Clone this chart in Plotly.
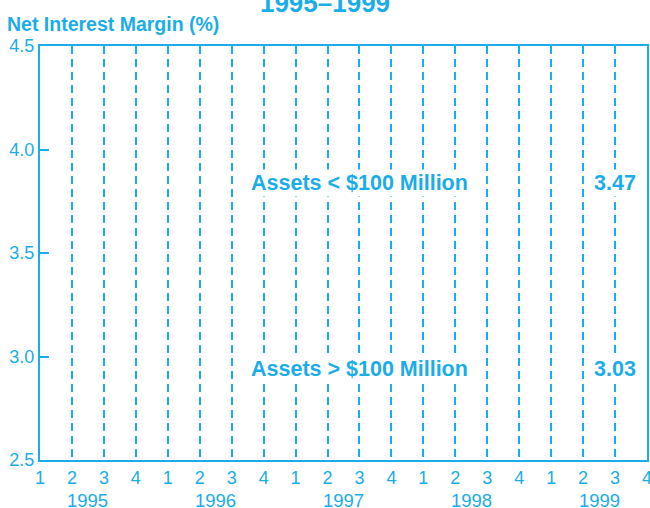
import plotly.graph_objects as go

# quarters 1995Q1 .. 1999Q4
years = ["1995", "1996", "1997", "1998", "1999"]
quarters = ["1", "2", "3", "4"]
series_labels = ["Assets < $100 Million", "Assets > $100 Million"]
latest_values = [3.47, 3.03]
label_y = [3.84, 2.94]

BLUE = "#1BADE8"
FONT = "Liberation Sans"

positions = list(range(1, len(years) * len(quarters) + 1))
tick_text = quarters * len(years)

fig = go.Figure()
# invisible trace so the axes exist
fig.add_trace(go.Scatter(x=[positions[0], positions[-1]], y=[2.5, 4.5],
                         mode="markers", marker=dict(opacity=0),
                         hoverinfo="skip", showlegend=False))

for lab, val, y in zip(series_labels, latest_values, label_y):
    fig.add_annotation(x=11, y=y, text=f"<b>{lab}</b>", showarrow=False,
                       bgcolor="white", font=dict(size=21.5, color=BLUE))
    fig.add_annotation(x=19, y=y, text=f"<b>{val:.2f}</b>", showarrow=False,
                       bgcolor="white", font=dict(size=21.5, color=BLUE))

for i, yr in enumerate(years):
    fig.add_annotation(x=i * 4 + 2.5, y=-0.097, xref="x", yref="paper",
                       text=yr, showarrow=False, yanchor="middle",
                       font=dict(size=18.5, color=BLUE))

fig.add_annotation(x=-0.058, y=1.053, xref="paper", yref="paper",
                   xanchor="left", yanchor="middle", showarrow=False,
                   text="<b>Net Interest Margin (%)</b>",
                   font=dict(size=19.5, color=BLUE))

fig.update_layout(
    title=dict(text="<b>1995–1999</b>", x=0.5, xanchor="center",
               y=0.994, yanchor="middle", font=dict(size=26, color=BLUE)),
    width=650, height=508,
    margin=dict(l=40, r=3, t=46, b=48),
    plot_bgcolor="white", paper_bgcolor="white",
    font=dict(family=FONT, color=BLUE, size=18),
    xaxis=dict(range=[1, 20], tickvals=positions, ticktext=tick_text,
               showgrid=True, gridcolor=BLUE, gridwidth=1.5, griddash="8px,5px",
               showline=True, linecolor=BLUE, linewidth=2, mirror=True,
               ticks="", zeroline=False, ticklabeloverflow="allow",
               automargin=False, tickfont=dict(size=18, color=BLUE)),
    yaxis=dict(range=[2.5, 4.5], dtick=0.5, tickformat=".1f",
               showgrid=False, showline=True, linecolor=BLUE, linewidth=2,
               mirror=True, ticks="inside", ticklen=9, tickwidth=1.5,
               tickcolor=BLUE, zeroline=False, automargin=False,
               tickfont=dict(size=18, color=BLUE)),
)

fig.write_html("out.html", config={"displayModeBar": False},
               post_script="document.body.style.margin='0';"
                           "document.body.style.overflow='hidden';")
